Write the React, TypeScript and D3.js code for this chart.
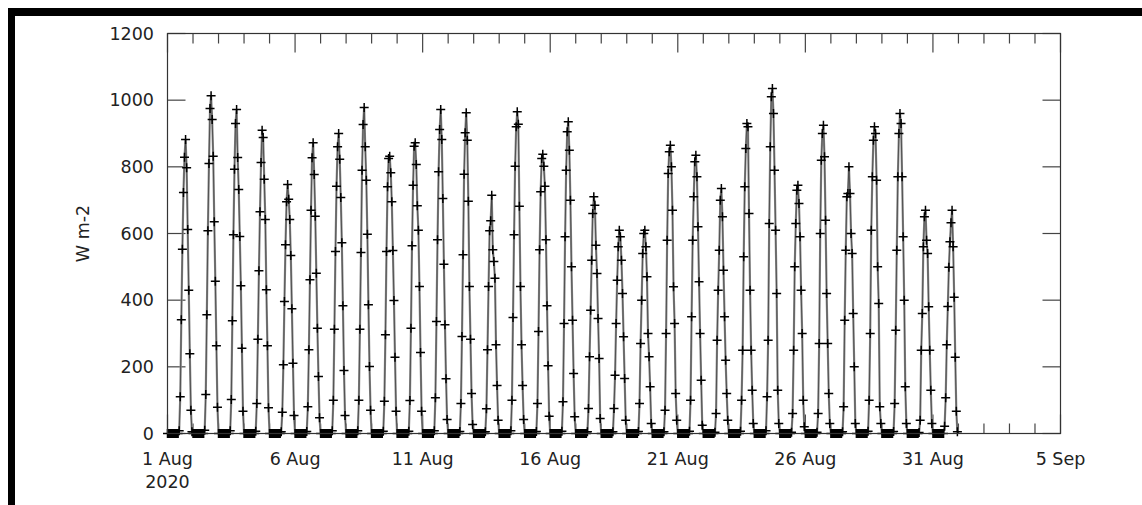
import React from "react";
import * as d3 from "d3";

// Hourly shortwave flux (W m-2), August 2020. Night hours (00-10 UTC) read as 0.
// Each profile lists hours 11..23 UTC for one day.
const FIRST_DAY_HOUR = 11;
const dailyProfiles: number[][] = [
  [8, 110, 341, 553, 723, 829, 882, 797, 612, 430, 239, 70, 5],
  [10, 117, 356, 608, 810, 975, 1013, 942, 832, 635, 457, 263, 79],
  [8, 102, 338, 596, 793, 930, 972, 828, 732, 591, 443, 256, 67],
  [7, 90, 283, 488, 665, 813, 910, 888, 763, 642, 431, 263, 77],
  [5, 64, 206, 396, 566, 695, 747, 703, 642, 534, 374, 211, 54],
  [6, 80, 251, 461, 670, 827, 872, 777, 652, 481, 316, 171, 47],
  [8, 100, 313, 546, 742, 860, 900, 823, 708, 572, 383, 189, 54],
  [8, 100, 313, 543, 790, 927, 978, 860, 760, 598, 386, 201, 70],
  [7, 97, 296, 546, 740, 825, 832, 782, 695, 549, 399, 229, 67],
  [7, 99, 316, 563, 745, 862, 872, 807, 683, 610, 441, 243, 67],
  [8, 107, 336, 581, 785, 912, 972, 882, 705, 508, 326, 164, 42],
  [6, 90, 291, 536, 778, 902, 962, 880, 697, 441, 283, 120, 27],
  [5, 74, 251, 441, 608, 638, 715, 551, 516, 466, 266, 144, 40],
  [8, 100, 348, 596, 802, 920, 965, 928, 682, 441, 266, 144, 42],
  [6, 90, 306, 551, 725, 825, 838, 802, 742, 581, 383, 203, 52],
  [7, 95, 330, 590, 790, 905, 935, 850, 700, 500, 340, 180, 50],
  [5, 75, 230, 370, 520, 660, 710, 685, 565, 480, 345, 225, 45],
  [5, 75, 175, 330, 460, 560, 610, 590, 520, 420, 290, 165, 40],
  [6, 90, 270, 400, 540, 600, 610, 560, 470, 300, 230, 140, 30],
  [5, 70, 300, 580, 780, 845, 865, 800, 670, 440, 330, 120, 40],
  [7, 100, 350, 580, 710, 815, 835, 770, 620, 455, 300, 160, 25],
  [4, 60, 280, 430, 550, 700, 735, 650, 490, 350, 220, 120, 40],
  [7, 100, 250, 530, 740, 855, 930, 920, 660, 430, 250, 130, 30],
  [8, 110, 280, 630, 860, 1010, 1035, 960, 790, 610, 420, 130, 30],
  [4, 60, 250, 500, 630, 730, 745, 690, 590, 430, 300, 100, 20],
  [4, 60, 270, 600, 820, 900, 925, 830, 640, 420, 270, 120, 30],
  [5, 80, 340, 550, 710, 720, 800, 720, 600, 540, 360, 200, 30],
  [7, 100, 300, 610, 770, 880, 920, 900, 760, 500, 390, 80, 30],
  [6, 90, 310, 550, 770, 900, 960, 930, 770, 590, 400, 140, 30],
  [3, 40, 250, 360, 560, 650, 670, 580, 540, 380, 250, 130, 30],
  [22, 107, 266, 381, 499, 575, 632, 670, 560, 409, 229, 67, 5],
];

const yTicks = [0, 200, 400, 600, 800, 1000, 1200];
const xMajorTickLabels = ["1 Aug", "6 Aug", "11 Aug", "16 Aug", "21 Aug", "26 Aug", "31 Aug", "5 Sep"];
const yearLabel = "2020";
const yAxisTitle = "W m-2";

type Pt = { t: Date; v: number };

const series: Pt[] = [];
dailyProfiles.forEach((prof, d) => {
  for (let h = 0; h < 24; h++) {
    const v = h < FIRST_DAY_HOUR ? 0 : prof[h - FIRST_DAY_HOUR];
    series.push({ t: new Date(Date.UTC(2020, 7, d + 1, h)), v });
  }
});

const X0 = 167.5, X1 = 1060.5, Y0 = 433.5, Y1 = 33.5;
const FONT = "DejaVu Sans, sans-serif";

export default function App() {
  const start = new Date(Date.UTC(2020, 7, 1));
  const end = new Date(Date.UTC(2020, 8, 5));
  const x = d3.scaleUtc().domain([start, end]).range([X0, X1]);
  const y = d3.scaleLinear().domain([0, 1200]).range([Y0, Y1]);

  const days = d3.utcDay.range(start, d3.utcDay.offset(end, 1));
  const majorDays = days.filter((_, i) => i % 5 === 0);

  const line = d3
    .line<Pt>()
    .x((d) => x(d.t))
    .y((d) => y(d.v));
  const linePath = line(series) || "";

  const m = 4.5;
  const markerPath = series
    .map((d) => {
      const px = x(d.t), py = y(d.v);
      return `M${px - m},${py}h${2 * m}M${px},${py - m}v${2 * m}`;
    })
    .join("");

  return (
    <svg
      width={1142}
      height={505}
      style={{ position: "absolute", left: 0, top: 0, background: "#fff" }}
    >
      <rect x={8} y={8} width={1134} height={8} fill="#000" />
      <rect x={8} y={8} width={7} height={497} fill="#000" />

      {/* y ticks (inward, both sides) */}
      {yTicks.map((t) => (
        <g key={"y" + t} stroke="#444" strokeWidth={1.2}>
          <line x1={X0} x2={X0 + 18} y1={y(t)} y2={y(t)} />
          <line x1={X1 - 18} x2={X1} y1={y(t)} y2={y(t)} />
        </g>
      ))}
      {/* x ticks (inward, top and bottom) */}
      {days.map((d, i) => {
        const len = i % 5 === 0 ? 19 : 10;
        const px = x(d);
        return (
          <g key={"x" + i} stroke="#444" strokeWidth={1.2}>
            <line x1={px} x2={px} y1={Y1} y2={Y1 + len} />
            <line x1={px} x2={px} y1={Y0} y2={Y0 - len} />
          </g>
        );
      })}

      <path d={linePath} fill="none" stroke="#8c8c8c" strokeWidth={2.2} />
      <path d={linePath} fill="none" stroke="#000" strokeWidth={0.6} opacity={0.7} />
      <path d={markerPath} fill="none" stroke="#000" strokeWidth={1.5} />

      <rect x={X0} y={Y1} width={X1 - X0} height={Y0 - Y1} fill="none" stroke="#333" strokeWidth={1.2} />

      {yTicks.map((t) => (
        <text
          key={"yl" + t}
          x={154}
          y={y(t)}
          dy="0.36em"
          textAnchor="end"
          fontFamily={FONT}
          fontSize={17.5}
          fill="#222"
        >
          {t}
        </text>
      ))}
      {majorDays.map((d, i) => (
        <text
          key={"xl" + i}
          x={x(d)}
          y={465}
          textAnchor="middle"
          fontFamily={FONT}
          fontSize={17.5}
          fill="#222"
        >
          {xMajorTickLabels[i]}
        </text>
      ))}
      <text x={x(start)} y={488} textAnchor="middle" fontFamily={FONT} fontSize={17.5} fill="#222">
        {yearLabel}
      </text>
      <text
        transform={`translate(89,${(Y0 + Y1) / 2}) rotate(-90)`}
        textAnchor="middle"
        fontFamily={FONT}
        fontSize={17.5}
        fill="#222"
      >
        {yAxisTitle}
      </text>
    </svg>
  );
}
